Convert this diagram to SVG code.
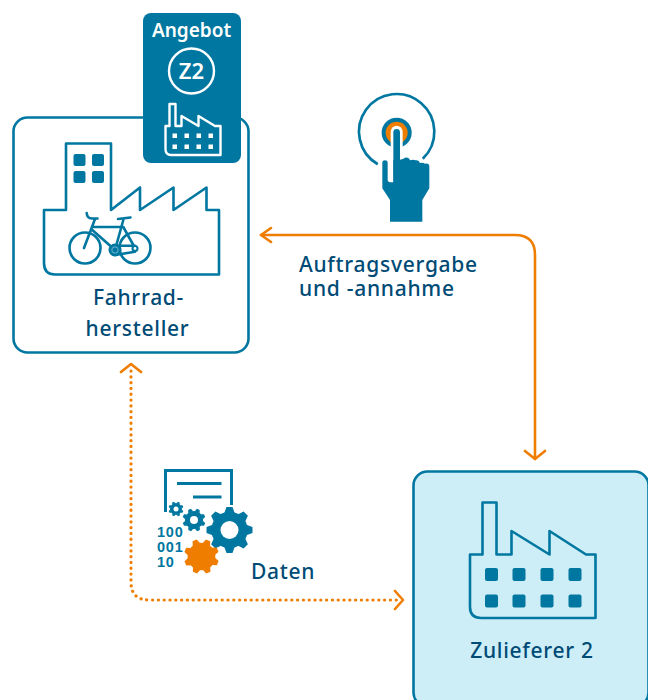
<svg xmlns="http://www.w3.org/2000/svg" width="648" height="700" viewBox="0 0 648 700">
<style>
.t{font-family:"Noto Sans","Open Sans",sans-serif;font-size:21px;font-weight:500;fill:#004b76;letter-spacing:.72px}
.h{font-family:"Noto Sans","Open Sans",sans-serif;font-weight:600;fill:#fff}
.o{fill:none;stroke:#0077a0;stroke-width:2.6;stroke-linejoin:round}
.w{fill:none;stroke:#fff;stroke-width:2.4;stroke-linejoin:round}
.f{fill:#0077a0}
.c{fill:none;stroke:#ef7d00;stroke-width:2.6;stroke-linecap:round;stroke-linejoin:round}
.d{stroke-width:3.2;stroke-dasharray:.1 5.7}
.b{fill:none;stroke:#0077a0;stroke-width:2.6;stroke-linecap:round;stroke-linejoin:round}
</style>
<defs>
<g id="gear">
<circle r="7.900"/>
<g id="tt"><path id="tooth" d="M-2.300-7.300L-1.300-10H1.300L2.300-7.300Z"/><use href="#tooth" transform="rotate(45)"/><use href="#tooth" transform="rotate(90)"/><use href="#tooth" transform="rotate(135)"/></g>
<use href="#tt" transform="rotate(180)"/>
</g>
</defs>
<rect width="648" height="700" fill="#fff"/>
<g id="connectors">
<path class="c" d="M261 235H515Q535 235 535 255V459"/>
<path class="c" d="M271 228L261 235L271 242M525 451L535 459L545 451"/>
<path class="c d" d="M131 371V582Q131 600 149 600H397"/>
<path class="c" d="M121 372L131 364L141 372M395 591L403 600L395 609"/>
</g>
<g id="fahrradhersteller">
<rect x="13.500" y="117.500" width="235" height="235" rx="14" fill="#fff" stroke="#0077a0" stroke-width="2.600"/>
<path class="o" d="M44 210H66V143.500H111V210L140 187.500V210L173.500 187.500V210L206.500 187.500V210H219V274.500H55Q44 274.500 44 263Z"/>
<g class="f">
<rect x="73.500" y="154" width="12" height="12" rx="2"/><rect x="92" y="154" width="12" height="12" rx="2"/>
<rect x="73.500" y="171" width="12" height="12" rx="2"/><rect x="92" y="171" width="12" height="12" rx="2"/>
</g>
<g id="bike">
<circle class="b" cx="85" cy="248" r="15.500"/><circle class="b" cx="135" cy="248" r="15.500"/>
<path class="b" d="M86.700 213Q87 218.500 92 218.500H97.500M95 219L84 248M93.300 227H123.300M92.300 230L115 250M123.300 220L115 250M123.300 227L135 248M115 245.700H135M115 255L135 251.700"/>
<path class="b" stroke-width="3.500" d="M118 219L130.500 217.500"/>
<circle class="f" cx="115" cy="250" r="6.500"/><circle cx="115" cy="250" r="3.200" fill="none" stroke="#8cc4d8" stroke-width=".8"/>
<circle cx="135" cy="248.500" r="3.500" class="f"/><circle cx="135" cy="248.500" r="1.400" fill="#fff"/>
</g>
<text class="t" x="138.500" y="305" text-anchor="middle">Fahrrad-</text>
<text class="t" x="137.500" y="336" text-anchor="middle">hersteller</text>
</g>
<g id="angebot">
<rect x="143" y="13" width="98" height="150" rx="8" class="f"/>
<text class="h" x="191.500" y="37" text-anchor="middle" font-size="19">Angebot</text>
<circle class="w" cx="191.500" cy="71" r="22.500"/>
<text class="h" x="191.500" y="79" text-anchor="middle" font-size="22">Z2</text>
<path class="w" d="M165.500 126H169.500V104H175.500V126H181.500V116L198.500 126V116L215 126H220.500V155H171Q165.500 155 165.500 149Z"/>
<g fill="#fff">
<rect x="172.500" y="133.500" width="4.500" height="4.500"/><rect x="184.500" y="133.500" width="4.500" height="4.500"/><rect x="196.500" y="133.500" width="4.500" height="4.500"/><rect x="208.500" y="133.500" width="4.500" height="4.500"/>
<rect x="172.500" y="144.500" width="4.500" height="4.500"/><rect x="184.500" y="144.500" width="4.500" height="4.500"/><rect x="196.500" y="144.500" width="4.500" height="4.500"/><rect x="208.500" y="144.500" width="4.500" height="4.500"/>
</g>
</g>
<g id="auftrag">
<g transform="translate(345 85) scale(.3333)">
<path d="M98.300 237.750A113 113 0 1 1 233.400 221.400" fill="none" stroke="#0077a0" stroke-width="8"/>
<circle cx="155" cy="143" r="45" class="f"/>
<circle cx="155" cy="143" r="33" fill="#ef7d00"/>
<path d="M155 140V225" stroke="#fff" stroke-width="36" stroke-linecap="round" fill="none"/>
<path class="f" d="M112 232Q112 226 120 226Q128 226 128 232V285Q128 292 140 292H145V225H165V224Q175 222 180 218Q192 216 195 226Q205 222 212 226Q222 224 225 234Q235 232 240 236Q252 234 253 242V310L232 345V410H135V345L112 310Z"/>
<path d="M155 142V285" stroke="#0077a0" stroke-width="20" stroke-linecap="round" fill="none"/>
</g>
<text class="t" x="299" y="272">Auftragsvergabe</text>
<text class="t" x="299" y="296">und -annahme</text>
</g>
<g id="daten">
<path d="M165.500 512V470.500H231.500V505" fill="none" stroke="#0077a0" stroke-width="3"/>
<path d="M177 483.500H221.500M193 497H221.500" stroke="#0077a0" stroke-width="3" fill="none"/>
<g class="f">
<use href="#gear" transform="translate(229.500 530) scale(2.300)"/>
<use href="#gear" transform="translate(194 520) rotate(22) scale(1.150)"/>
<use href="#gear" transform="translate(176 509) rotate(22) scale(.75)"/>
</g>
<circle cx="229.500" cy="530" r="9" fill="#fff"/>
<circle cx="194" cy="520" r="4" fill="#fff"/>
<circle cx="176" cy="509" r="2.500" fill="#fff"/>
<use href="#gear" fill="#ef7d00" transform="translate(201.500 556.500) rotate(22) scale(1.750)"/>
<g style="font-family:'Liberation Sans',sans-serif;font-size:14.500px;font-weight:700;fill:#0077a0;letter-spacing:.8px">
<text x="157" y="537">100</text><text x="157" y="552">001</text><text x="157" y="567">10</text>
</g>
<text class="t" x="251" y="579">Daten</text>
</g>
<g id="zulieferer">
<rect x="413.500" y="471.500" width="235" height="235" rx="14" fill="#cdeef7" stroke="#0077a0" stroke-width="2.600"/>
<path class="o" d="M470 554.500H482.500V502.500H496.500V554.500H511.500V531L549.500 554.500V531L586 554.500H595.500V618H481Q470 618 470 607Z"/>
<g class="f">
<rect x="485" y="568" width="13" height="13" rx="2"/><rect x="512.500" y="568" width="13" height="13" rx="2"/><rect x="540.500" y="568" width="13" height="13" rx="2"/><rect x="568.500" y="568" width="13" height="13" rx="2"/>
<rect x="485" y="594.500" width="13" height="13" rx="2"/><rect x="512.500" y="594.500" width="13" height="13" rx="2"/><rect x="540.500" y="594.500" width="13" height="13" rx="2"/><rect x="568.500" y="594.500" width="13" height="13" rx="2"/>
</g>
<text class="t" x="532" y="658" text-anchor="middle">Zulieferer 2</text>
</g>
</svg>
